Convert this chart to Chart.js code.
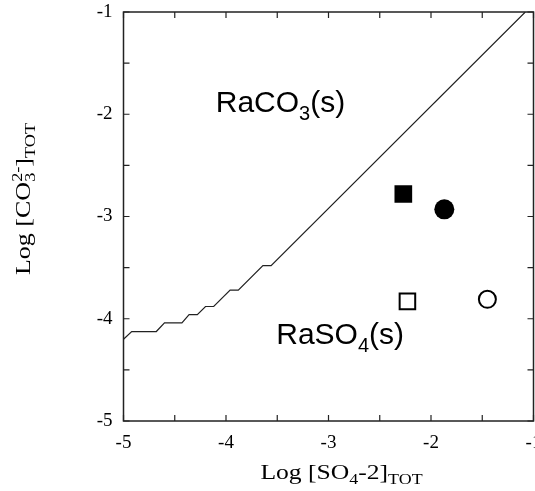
<!DOCTYPE html>
<html><head><meta charset="utf-8">
<script src="https://cdn.jsdelivr.net/npm/chart.js@4"></script>
<style>html,body{margin:0;padding:0;background:#fff}canvas{display:block}</style>
</head><body>
<canvas id="c" width="535" height="491"></canvas>
<script>
// RaCO3(s) / RaSO4(s) boundary line
const boundaryX = [-5, -4.92, -4.68, -4.6, -4.43, -4.36, -4.28, -4.2, -4.12, -3.96, -3.88, -3.64, -3.56, -1.08];
const boundaryY = [-4.2, -4.125, -4.125, -4.04, -4.04, -3.96, -3.96, -3.88, -3.88, -3.72, -3.72, -3.48, -3.48, -1];
// experimental points: filled square, filled circle, open square, open circle
const markerNames = ['filledSquare', 'filledCircle', 'openSquare', 'openCircle'];
const markerX = [-2.27, -1.87, -2.23, -1.45];
const markerY = [-2.78, -2.93, -3.83, -3.81];
// axes
const xMin = -5, xMax = -1, yMin = -5, yMax = -1;
const tickStep = 0.5;
const xTickValues = [-5, -4, -3, -2, -1];
const xTickLabels = ['-5', '-4', '-3', '-2', '-1'];
// region labels (data coords of left/baseline)
const regionLabels = [
  {parts: [['RaCO','n'], ['3','sub'], ['(s)','n']], x: -4.1, y: -1.98},
  {parts: [['RaSO','n'], ['4','sub'], ['(s)','n']], x: -3.51, y: -4.25}
];

const data = {
  datasets: [
    {label: 'boundary', data: boundaryX.map((x, i) => ({x, y: boundaryY[i]})), showLine: true,
     borderColor: '#222', borderWidth: 1.2, pointRadius: 0, tension: 0, fill: false},
    {label: markerNames[0], data: [{x: markerX[0], y: markerY[0]}], pointStyle: 'rect', pointRadius: 12.5,
     backgroundColor: '#000', borderColor: '#000', borderWidth: 0},
    {label: markerNames[1], data: [{x: markerX[1], y: markerY[1]}], pointStyle: 'circle', pointRadius: 10,
     backgroundColor: '#000', borderColor: '#000', borderWidth: 0},
    {label: markerNames[2], data: [{x: markerX[2], y: markerY[2]}], pointStyle: 'rect', pointRadius: 11,
     backgroundColor: '#fff', borderColor: '#000', borderWidth: 2},
    {label: markerNames[3], data: [{x: markerX[3], y: markerY[3]}], pointStyle: 'circle', pointRadius: 8.5,
     backgroundColor: '#fff', borderColor: '#000', borderWidth: 2}
  ]
};

function drawParts(ctx, parts, x, y, size, family, align) {
  const subSize = Math.round(size * 0.68);
  const fnt = k => (k === 'n' ? size : subSize) + 'px ' + family;
  const layout = [];
  let cx = 0, i = 0;
  while (i < parts.length) {
    const [t, k] = parts[i];
    ctx.font = fnt(k);
    let w = ctx.measureText(t).width;
    if (k === 'sub' && parts[i + 1] && parts[i + 1][1] === 'sup') {
      const sp = parts[i + 1];
      ctx.font = fnt('sup');
      const w2 = ctx.measureText(sp[0]).width;
      layout.push([t, k, cx]);
      layout.push([sp[0], 'sup', cx]);
      cx += Math.max(w, w2);
      i += 2;
      continue;
    }
    layout.push([t, k, cx]);
    cx += w;
    i++;
  }
  const x0 = align === 'center' ? x - cx / 2 : x;
  ctx.textBaseline = 'alphabetic';
  ctx.textAlign = 'left';
  layout.forEach(([t, k, ox]) => {
    ctx.font = fnt(k);
    const dy = k === 'sub' ? size * 0.25 : (k === 'sup' ? -size * 0.42 : 0);
    ctx.fillText(t, x0 + ox, y + dy);
  });
}

const framePlugin = {
  id: 'frame',
  afterDraw(chart) {
    const {ctx, chartArea: a, scales} = chart;
    const xs = scales.x, ys = scales.y;
    ctx.save();
    ctx.strokeStyle = '#222';
    ctx.lineWidth = 1.5;
    ctx.strokeRect(a.left, a.top, a.right - a.left, a.bottom - a.top);
    const tl = 6;
    ctx.beginPath();
    for (let v = xMin; v <= xMax + 1e-9; v += tickStep) {
      const px = xs.getPixelForValue(v);
      ctx.moveTo(px, a.bottom); ctx.lineTo(px, a.bottom - tl);
      ctx.moveTo(px, a.top); ctx.lineTo(px, a.top + tl);
    }
    for (let v = yMin; v <= yMax + 1e-9; v += tickStep) {
      const py = ys.getPixelForValue(v);
      ctx.moveTo(a.left, py); ctx.lineTo(a.left + tl, py);
      ctx.moveTo(a.right, py); ctx.lineTo(a.right - tl, py);
    }
    ctx.lineWidth = 1.2;
    ctx.stroke();
    ctx.fillStyle = '#000';
    // x tick labels
    const serif = '"Liberation Serif", "Times New Roman", serif';
    ctx.font = '19px ' + serif;
    ctx.textAlign = 'center';
    ctx.textBaseline = 'alphabetic';
    xTickValues.forEach((v, i) => ctx.fillText(xTickLabels[i], xs.getPixelForValue(v), a.bottom + 27));
    // region labels
    regionLabels.forEach(l => {
      drawParts(ctx, l.parts, xs.getPixelForValue(l.x), ys.getPixelForValue(l.y), 30, '"Liberation Sans", Arial, sans-serif', 'left');
    });
    // axis titles
    ctx.save();
    ctx.translate(341.5, 479);
    ctx.scale(1.28, 1);
    drawParts(ctx, [['Log [SO','n'], ['4','sub'], ['-2]','n'], ['TOT','sub']], 0, 0, 20, serif, 'center');
    ctx.restore();
    ctx.save();
    ctx.translate(30, 199);
    ctx.rotate(-Math.PI / 2);
    ctx.scale(1.3, 1);
    drawParts(ctx, [['Log [CO','n'], ['3','sub'], ['2-','sup'], [']','n'], ['TOT','sub']], 0, 0, 20, serif, 'center');
    ctx.restore();
    ctx.restore();
  }
};

const tickFont = {family: '"Liberation Serif", "Times New Roman", serif', size: 19};
new Chart(document.getElementById('c'), {
  type: 'scatter',
  data,
  options: {
    responsive: false,
    devicePixelRatio: 1,
    animation: false,
    layout: {autoPadding: false, padding: {left: 0, top: 12, right: 1.5, bottom: 0}},
    plugins: {legend: {display: false}, tooltip: {enabled: false}},
    scales: {
      x: {
        type: 'linear', min: xMin, max: xMax, position: 'bottom',
        ticks: {display: false, stepSize: tickStep},
        grid: {display: false, drawTicks: false},
        border: {display: false},
        afterFit: s => { s.height = 70; s.paddingLeft = 0; s.paddingRight = 0; }
      },
      y: {
        type: 'linear', min: yMin, max: yMax, position: 'left',
        ticks: {stepSize: tickStep, autoSkip: false, padding: 11, color: '#000', font: tickFont,
                callback: v => Number.isInteger(v) ? String(v) : ''},
        grid: {display: false, drawTicks: false},
        border: {display: false},
        afterFit: s => { s.width = 123.5; s.paddingTop = 0; s.paddingBottom = 0; }
      }
    }
  },
  plugins: [framePlugin]
});
</script>
</body></html>
